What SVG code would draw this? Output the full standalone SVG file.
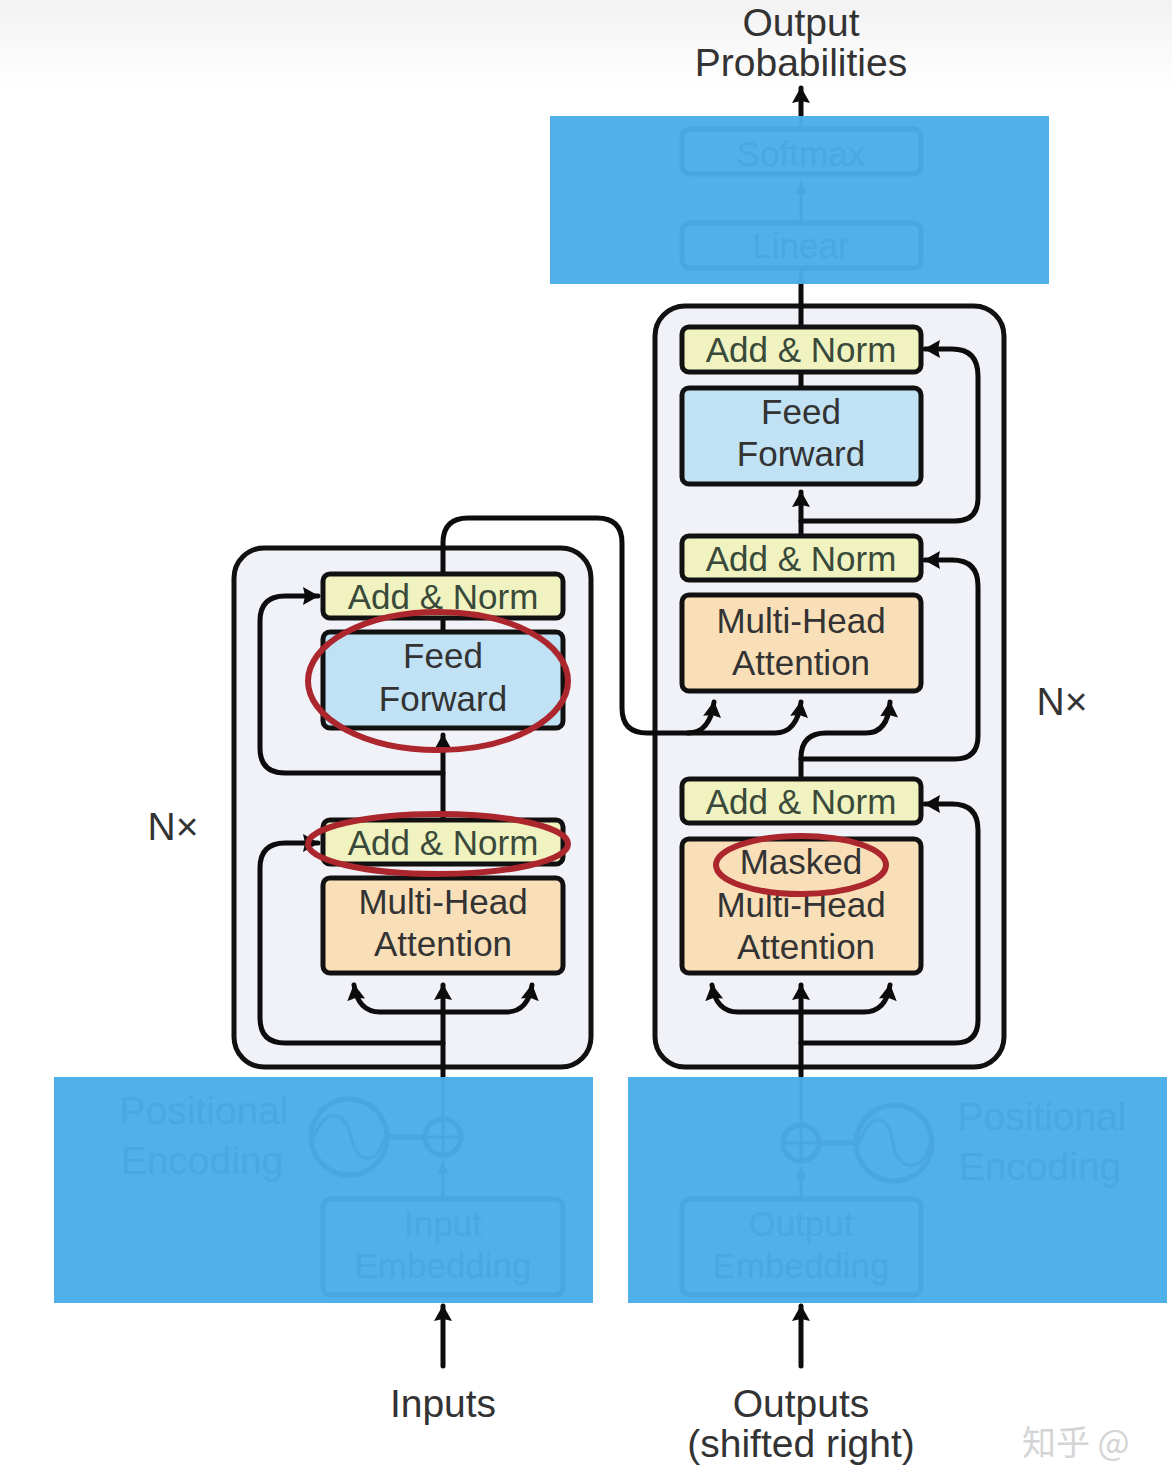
<svg xmlns="http://www.w3.org/2000/svg" width="1172" height="1466" viewBox="0 0 1172 1466">
<style>
text{font-family:"Liberation Sans",Arial,sans-serif;font-size:35px;fill:#333;text-anchor:middle}
.big{font-size:39px}
.box{stroke:#111;stroke-width:5}
.stack{fill:#f1f1f8;stroke:#111;stroke-width:5}
.norm{fill:#f0f3c0}
.ff{fill:#c0e2f4}
.att{fill:#f9dfb8}
.c{fill:none;stroke:#0c0c0c;stroke-width:5;stroke-linecap:round}
.blue{fill:#50b0ea}
.g{fill:none;stroke:#49a6e0;stroke-width:5}
.gt{fill:#49a7e1}
.gl{fill:none;stroke:#49a6e0;stroke-width:3}
.red{fill:none;stroke:#ab262d;stroke-width:6}
.lab{fill:#3a4a3a}
</style>
<defs>
<marker id="a" markerUnits="userSpaceOnUse" markerWidth="20" markerHeight="20" refX="15" refY="10" orient="auto"><path d="M0 1L16 10L0 19L2 10Z" fill="#0c0c0c"/></marker>
<linearGradient id="bg" x1="0" y1="0" x2="0" y2="1"><stop offset="0" stop-color="#f2f2f2"/><stop offset="1" stop-color="#fff"/></linearGradient>
</defs>
<rect width="1172" height="1466" fill="#fff"/>
<rect width="1172" height="90" fill="url(#bg)"/>

<g id="encoder-stack"><rect class="stack" x="234" y="548" width="357" height="519" rx="30"/></g>
<g id="decoder-stack"><rect class="stack" x="655" y="306" width="349" height="761" rx="30"/></g>

<g id="connectors">
<path class="c" d="M443 1078V985" marker-end="url(#a)"/>
<path class="c" d="M443 1012H380Q358 1012 354 985" marker-end="url(#a)"/>
<path class="c" d="M443 1012H506Q528 1012 532 985" marker-end="url(#a)"/>
<path class="c" d="M443 1043H285Q260 1043 260 1018V868Q260 843 285 843H318" marker-end="url(#a)"/>
<path class="c" d="M443 820V735" marker-end="url(#a)"/>
<path class="c" d="M443 773H285Q260 773 260 748V621Q260 596 285 596H318" marker-end="url(#a)"/>
<path class="c" d="M443 632V618"/>
<path class="c" d="M443 574V543Q443 518 468 518H597Q622 518 622 543V708Q622 733 647 733H688Q710 733 714 702" marker-end="url(#a)"/>
<path class="c" d="M688 733H775Q797 733 801 702" marker-end="url(#a)"/>
<path class="c" d="M801 776V758Q801 733 826 733H866Q888 733 890 702" marker-end="url(#a)"/>
<path class="c" d="M801 759H955Q978 759 978 736V586Q978 560 952 560H925" marker-end="url(#a)"/>
<path class="c" d="M801 534V492" marker-end="url(#a)"/>
<path class="c" d="M801 521H955Q978 521 978 498V376Q978 349 952 349H925" marker-end="url(#a)"/>
<path class="c" d="M801 388V372"/>
<path class="c" d="M801 325V285"/>
<path class="c" d="M801 1078V985" marker-end="url(#a)"/>
<path class="c" d="M801 1012H738Q716 1012 712 985" marker-end="url(#a)"/>
<path class="c" d="M801 1012H864Q886 1012 890 985" marker-end="url(#a)"/>
<path class="c" d="M801 1043H955Q978 1043 978 1020V830Q978 804 952 804H925" marker-end="url(#a)"/>
<path class="c" d="M801 116V88" marker-end="url(#a)"/>
<path class="c" d="M443 1366V1306" marker-end="url(#a)"/>
<path class="c" d="M801 1366V1306" marker-end="url(#a)"/>
</g>

<g id="enc-norm-top"><rect class="box norm" x="323" y="574" width="240" height="44" rx="7"/><text class="lab" x="443" y="609">Add &amp; Norm</text></g>
<g id="enc-ff"><rect class="box ff" x="323" y="632" width="240" height="96" rx="7"/><text x="443" y="668">Feed</text><text x="443" y="711">Forward</text></g>
<g id="enc-norm-bottom"><rect class="box norm" x="323" y="820" width="240" height="44" rx="7"/><text class="lab" x="443" y="855">Add &amp; Norm</text></g>
<g id="enc-att"><rect class="box att" x="323" y="878" width="240" height="95" rx="7"/><text x="443" y="914">Multi-Head</text><text x="443" y="956">Attention</text></g>

<g id="dec-norm-top"><rect class="box norm" x="682" y="327" width="239" height="45" rx="7"/><text class="lab" x="801" y="362">Add &amp; Norm</text></g>
<g id="dec-ff"><rect class="box ff" x="682" y="388" width="239" height="96" rx="7"/><text x="801" y="424">Feed</text><text x="801" y="466">Forward</text></g>
<g id="dec-norm-mid"><rect class="box norm" x="682" y="536" width="239" height="44" rx="7"/><text class="lab" x="801" y="571">Add &amp; Norm</text></g>
<g id="dec-att"><rect class="box att" x="682" y="595" width="239" height="96" rx="7"/><text x="801" y="633">Multi-Head</text><text x="801" y="675">Attention</text></g>
<g id="dec-norm-bottom"><rect class="box norm" x="682" y="779" width="239" height="44" rx="7"/><text class="lab" x="801" y="814">Add &amp; Norm</text></g>
<g id="dec-masked"><rect class="box att" x="682" y="839" width="239" height="134" rx="7"/><text x="801" y="874">Masked</text><text x="801" y="917">Multi-Head</text><text x="806" y="959">Attention</text></g>

<g id="nx-labels"><text class="big" x="173" y="840">N×</text><text class="big" x="1062" y="715">N×</text></g>

<g id="output-head"><rect class="blue" x="550" y="116" width="499" height="168"/>
<rect class="g" x="682" y="129" width="239" height="45" rx="8"/><text class="gt" x="801" y="166">Softmax</text>
<path class="gl" d="M801 222V190"/><path d="M801 180L796 194H806Z" fill="#49a6e0"/>
<rect class="g" x="682" y="223" width="239" height="45" rx="8"/><text class="gt" x="801" y="258">Linear</text>
<path class="gl" d="M801 129V116M801 284V268"/><path d="M801 274L796 284H806Z" fill="#49a6e0"/></g>

<g id="input-block"><rect class="blue" x="54" y="1077" width="539" height="226"/>
<text class="gt big" x="204" y="1124">Positional</text><text class="gt big" x="202" y="1174">Encoding</text>
<circle class="g" cx="349" cy="1137" r="38"/><path class="gl" d="M314 1137C326 1105 346 1112 351 1137S376 1169 385 1137"/>
<path class="g" d="M388 1137H424"/>
<circle class="g" cx="443" cy="1137" r="18"/><path class="gl" d="M425 1137H461M443 1119V1155M443 1119V1077M443 1197V1165"/><path d="M443 1159L438 1173H448Z" fill="#49a6e0"/>
<rect class="g" x="323" y="1199" width="240" height="96" rx="8"/><text class="gt" x="443" y="1236">Input</text><text class="gt" x="443" y="1278">Embedding</text></g>

<g id="output-block"><rect class="blue" x="628" y="1077" width="539" height="226"/>
<text class="gt big" x="1042" y="1130">Positional</text><text class="gt big" x="1040" y="1180">Encoding</text>
<circle class="g" cx="894" cy="1143" r="38"/><path class="gl" d="M859 1143C870 1112 888 1112 893 1143S925 1172 930 1143"/>
<path class="g" d="M819 1143H855"/>
<circle class="g" cx="801" cy="1143" r="18"/><path class="gl" d="M783 1143H819M801 1125V1161M801 1125V1077M801 1197V1170"/><path d="M801 1165L796 1179H806Z" fill="#49a6e0"/>
<rect class="g" x="682" y="1199" width="239" height="96" rx="8"/><text class="gt" x="801" y="1236">Output</text><text class="gt" x="801" y="1278">Embedding</text></g>

<g id="highlights">
<ellipse class="red" cx="438" cy="681" rx="130" ry="69"/>
<ellipse class="red" cx="438" cy="844" rx="130" ry="30"/>
<ellipse class="red" cx="801" cy="865" rx="85" ry="29"/>
</g>

<g id="captions">
<text class="big" x="801" y="36">Output</text><text class="big" x="801" y="76">Probabilities</text>
<text class="big" x="443" y="1417">Inputs</text>
<text class="big" x="801" y="1417">Outputs</text><text class="big" x="801" y="1457">(shifted right)</text>
<text x="1022" y="1455" style="text-anchor:start;font-family:'Noto Sans CJK SC',sans-serif;font-size:34px;fill:#d4d4d4">知乎 @</text>
</g>
</svg>
